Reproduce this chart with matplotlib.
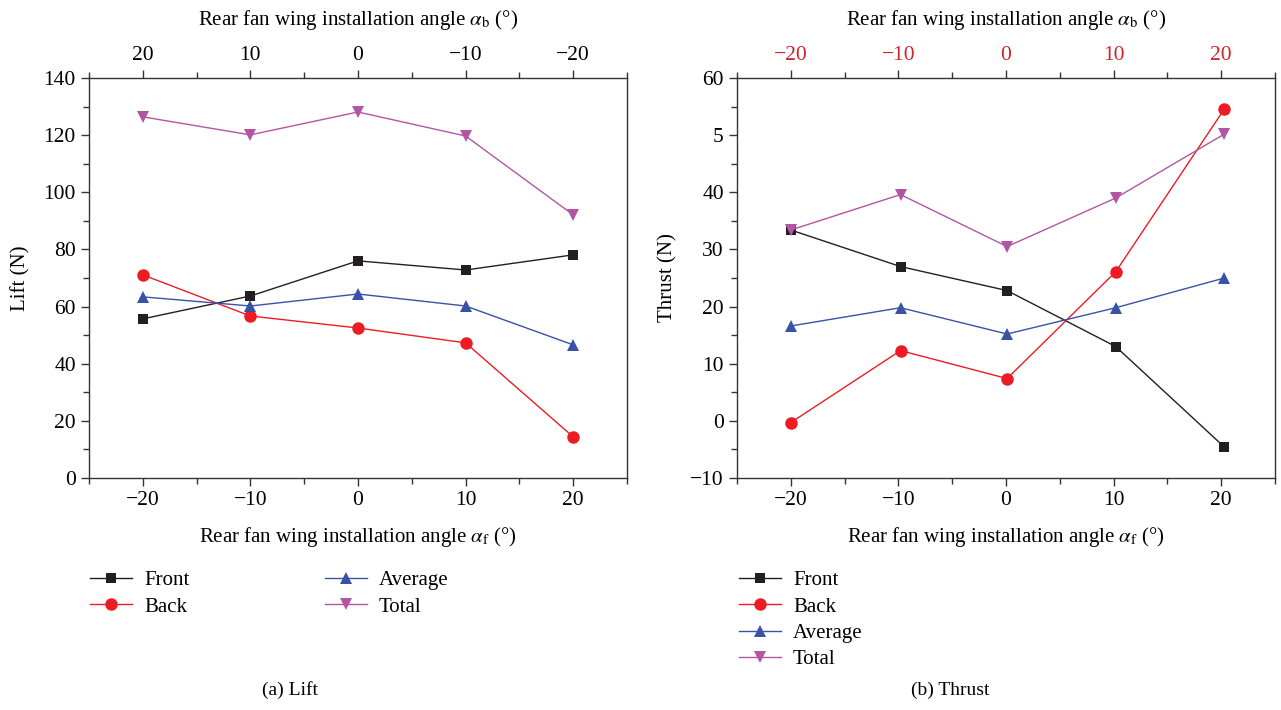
import matplotlib.pyplot as plt
from matplotlib.ticker import MultipleLocator

plt.rcParams['font.family'] = ['Liberation Serif', 'DejaVu Serif']
plt.rcParams['mathtext.fontset'] = 'stix'
plt.rcParams['axes.unicode_minus'] = True

# front fan angle (bottom axis)
angles = [-20, -10, 0, 10, 20]
top_lift_labels = ['20', '10', '0', '\u221210', '\u221220']
top_thrust_labels = ['\u221220', '\u221210', '0', '10', '20']

# lift (N)
lift_front = [55.7, 63.7, 76.0, 72.8, 78.1]
lift_back = [71.1, 56.7, 52.5, 47.3, 14.4]
lift_avg = [63.4, 60.2, 64.4, 60.2, 46.6]
lift_total = [126.4, 120.1, 128.1, 119.7, 92.1]

# thrust (N), points sit slightly right of the ticks in the original
thrust_x = [-20, -9.8, 0.1, 10.2, 20.3]
thrust_front = [33.4, 27.0, 22.8, 13.0, -4.6]
thrust_back = [-0.3, 12.3, 7.4, 26.1, 54.6]
thrust_avg = [16.6, 19.8, 15.2, 19.8, 25.0]
thrust_total = [33.4, 39.6, 30.5, 39.0, 50.2]
thrust_ytick_labels = ['\u221210', '0', '10', '20', '30', '40', '5', '60']

BLACK = '#231f20'
RED = '#ed1c24'
BLUE = '#3953a4'
MAGENTA = '#b256a3'
FS = 15

styles = [
    ('Front', BLACK, 's', 7.5),
    ('Back', RED, 'o', 9),
    ('Average', BLUE, '^', 9),
    ('Total', MAGENTA, 'v', 9),
]

W, H = 1281, 710
fig = plt.figure(figsize=(W / 100, H / 100), dpi=100)
ax1 = fig.add_axes([89 / W, 232 / H, 538 / W, 400 / H])
ax2 = fig.add_axes([737 / W, 232 / H, 538 / W, 400 / H])


def draw(ax, x, series, ylim, ymajor):
    lines = []
    for (name, col, mk, ms), y in zip(styles, series):
        ln, = ax.plot(x, y, color=col, lw=1.0, marker=mk, ms=ms,
                      markeredgewidth=0, label=name)
        lines.append(ln)
    ax.set_xlim(-25, 25)
    ax.set_ylim(*ylim)
    ax.xaxis.set_major_locator(MultipleLocator(10))
    ax.xaxis.set_minor_locator(MultipleLocator(5))
    ax.yaxis.set_major_locator(MultipleLocator(ymajor))
    ax.yaxis.set_minor_locator(MultipleLocator(ymajor / 2))
    ax.tick_params(which='both', direction='out', top=False, right=False,
                   labelsize=FS + 0.5, color='#333333', width=1)
    ax.tick_params(which='major', length=6)
    ax.tick_params(which='minor', length=4)
    for s in ax.spines.values():
        s.set_color('#333333')
        s.set_linewidth(1.0)
    ax.set_xlabel(r'Rear fan wing installation angle $\alpha_\mathrm{f}$ (°)',
                  fontsize=FS, labelpad=11)
    top = ax.twiny()
    top.set_xlim(-25, 25)
    top.xaxis.set_major_locator(MultipleLocator(10))
    top.xaxis.set_minor_locator(MultipleLocator(5))
    top.tick_params(which='both', direction='out', labelsize=FS + 0.5,
                    color='#333333', width=1)
    top.tick_params(which='major', length=6)
    top.tick_params(which='minor', length=4)
    top.set_xlabel(r'Rear fan wing installation angle $\alpha_\mathrm{b}$ (°)',
                   fontsize=FS, labelpad=15)
    for s in top.spines.values():
        s.set_visible(False)
    return lines, top


lines, top1 = draw(ax1, angles, [lift_front, lift_back, lift_avg, lift_total],
                   (0, 140), 20)
ax1.set_ylabel('Lift (N)', fontsize=FS, labelpad=9)
top1.set_xticks(angles)
top1.set_xticklabels(top_lift_labels)

_, top2 = draw(ax2, thrust_x, [thrust_front, thrust_back, thrust_avg, thrust_total],
               (-10, 60), 10)
ax2.set_yticks(range(-10, 61, 10))
ax2.set_yticklabels(thrust_ytick_labels)
ax2.set_ylabel('Thrust (N)', fontsize=FS, labelpad=9)
top2.set_xticks(angles)
top2.set_xticklabels(top_thrust_labels, color='#d2232a')

fig.legend(handles=lines, loc='upper left', bbox_to_anchor=(71 / W, 1 - 552 / H),
           ncol=2, frameon=False, fontsize=FS, handlelength=2.05,
           columnspacing=6.5, labelspacing=0.32, handletextpad=0.55)
fig.legend(handles=lines, loc='upper left', bbox_to_anchor=(720 / W, 1 - 552 / H),
           ncol=1, frameon=False, fontsize=FS, handlelength=2.05,
           labelspacing=0.32, handletextpad=0.55)

fig.text(290 / W, 1 - 690 / H, '(a) Lift', fontsize=FS - 1, ha='center', va='center')
fig.text(950 / W, 1 - 690 / H, '(b) Thrust', fontsize=FS - 1, ha='center', va='center')

fig.savefig('out.png', dpi=100)
